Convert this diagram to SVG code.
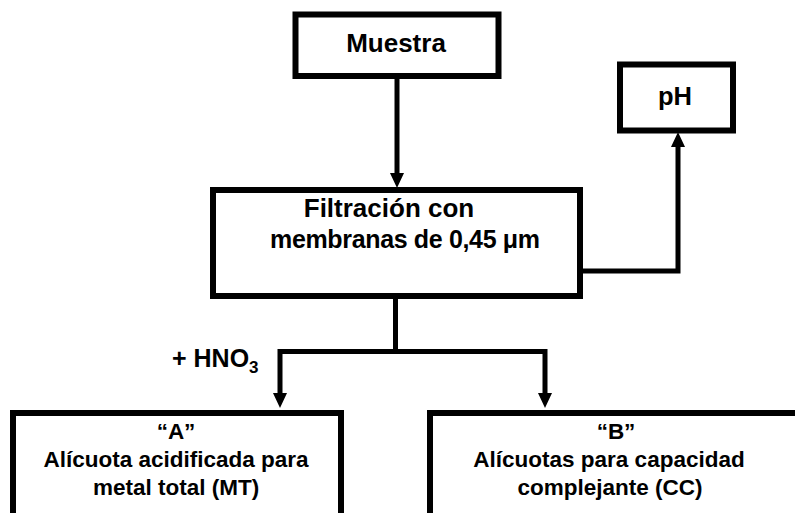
<svg xmlns="http://www.w3.org/2000/svg" width="795" height="513" viewBox="0 0 795 513">
  <style>
    .box{fill:#fff;stroke:#000;stroke-width:6}
    .t{font-family:"Liberation Sans",Arial,Helvetica,sans-serif;font-weight:bold;font-size:25px;text-anchor:middle;fill:#000}
    .s{font-size:22.5px}
    .c{fill:none;stroke:#000;stroke-width:5;stroke-linejoin:miter}
  </style>
  <defs>
    <marker id="arr" viewBox="0 0 15 14" refX="0" refY="7" markerWidth="15" markerHeight="14" markerUnits="userSpaceOnUse" orient="auto-start-reverse">
      <path d="M0,0 L15,7 L0,14 Z" fill="#000"/>
    </marker>
  </defs>
  <rect width="795" height="513" fill="#fff"/>

  <g id="connectors">
    <path class="c" d="M397,78 V173" marker-end="url(#arr)"/>
    <path class="c" d="M580,271 H678 V147" marker-end="url(#arr)"/>
    <path class="c" d="M395.5,296 V351.5"/>
    <path class="c" d="M280,393 V351.5 H545 V393" marker-start="url(#arr)" marker-end="url(#arr)"/>
  </g>

  <g id="muestra">
    <rect class="box" x="295.5" y="14.5" width="203" height="61.5"/>
    <text class="t" x="396" y="52" style="font-size:26px">Muestra</text>
  </g>

  <g id="ph">
    <rect class="box" x="620" y="64.5" width="113" height="66"/>
    <text class="t" x="675" y="105" style="font-size:25.5px">pH</text>
  </g>

  <g id="filtracion">
    <rect class="box" x="213" y="190" width="367" height="106"/>
    <text class="t" x="389" y="217" style="font-size:26px">Filtración con</text>
    <text class="t" x="405" y="248" textLength="270" lengthAdjust="spacing">membranas de 0,45 μm</text>
  </g>

  <g id="hno3-label">
    <text class="t" x="172" y="367" style="text-anchor:start">+ HNO<tspan dy="6" style="font-size:17px">3</tspan></text>
  </g>

  <g id="alicuota-a">
    <rect class="box" x="13" y="413" width="328" height="130"/>
    <text class="t s" x="176" y="439">“A”</text>
    <text class="t s" x="176" y="467">Alícuota acidificada para</text>
    <text class="t s" x="176" y="495">metal total (MT)</text>
  </g>

  <g id="alicuota-b">
    <rect class="box" x="430" y="413" width="420" height="130"/>
    <text class="t s" x="616" y="439">“B”</text>
    <text class="t s" x="609" y="467">Alícuotas para capacidad</text>
    <text class="t s" x="610" y="495">complejante (CC)</text>
  </g>
</svg>
